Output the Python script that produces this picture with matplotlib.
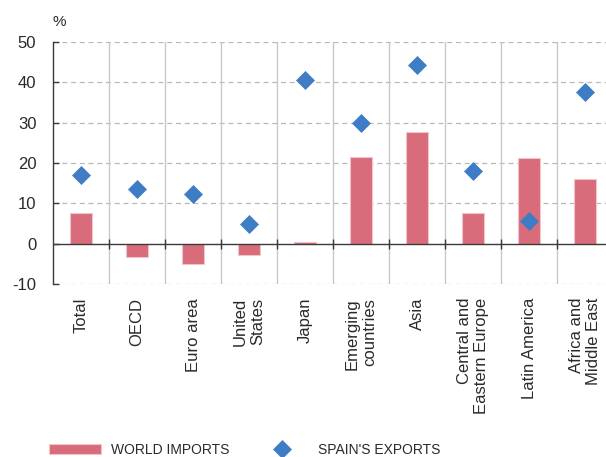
import numpy as np
import matplotlib.pyplot as plt

# values (%)
regions = ["Total", "OECD", "Euro area", "United\nStates", "Japan",
           "Emerging\ncountries", "Asia", "Central and\nEastern Europe",
           "Latin America", "Africa and\nMiddle East"]
world_imports = [7.5, -3.2, -5.0, -2.7, 0.4, 21.5, 27.6, 7.5, 21.3, 16.1]
spain_exports = [17.1, 13.5, 12.3, 4.8, 40.7, 29.8, 44.3, 17.9, 5.6, 37.6]
y_ticks = [-10, 0, 10, 20, 30, 40, 50]

bar_col = "#d86c7a"
dot_col = "#3e7dc6"
txt_col = "#2a2a2a"

plt.rcParams['font.family'] = ['Liberation Sans', 'DejaVu Sans']
plt.rcParams['axes.unicode_minus'] = False

fig = plt.figure(figsize=(6.06, 4.57), dpi=100)
ax = fig.add_axes([53 / 606, 1 - 284 / 457, 1 - 53 / 606, (284 - 42) / 457])

x = np.arange(len(regions))

for yv in y_ticks:
    if yv != 0:
        ax.axhline(yv, color="#b8b8b8", lw=0.9, ls=(0, (4, 3)), zorder=0)
for b in x[:-1] + 0.5:
    ax.axvline(b, color="#c8c8c8", lw=1.0, zorder=0)

bars = ax.bar(x, world_imports, width=0.41, color=bar_col, edgecolor="#f0c4ca",
              linewidth=0.8, zorder=2, label="WORLD IMPORTS")
pts, = ax.plot(x, spain_exports, ls="none", marker="D", ms=9, color=dot_col,
               mec=dot_col, mew=0.5, zorder=3, label="SPAIN'S EXPORTS")

# zero line with crossing ticks at the category boundaries
ax.axhline(0, color="#3a3a3a", lw=1.0, zorder=2.5)
ax.plot(x[:-1] + 0.5, np.zeros(len(x) - 1), ls="none", marker="|", ms=7,
        mew=1.0, color="#3a3a3a", zorder=2.5)

ax.set_ylim(-10, 50)
ax.set_xlim(-0.5, -0.5 + 553 / 56)
ax.set_yticks(y_ticks)
ax.set_xticks(x)
ax.set_xticklabels(regions, rotation=90, ha="center", va="top",
                   multialignment="right", fontsize=12, color=txt_col)
ax.tick_params(axis="x", length=0, pad=10)
ax.tick_params(axis="y", direction="in", length=4, width=1.0, color="#3a3a3a",
               pad=12, labelsize=12, labelcolor=txt_col)

for s in ["top", "right", "bottom"]:
    ax.spines[s].set_visible(False)
ax.spines["left"].set_color("#3a3a3a")
ax.spines["left"].set_linewidth(1.0)

fig.text(59 / 606, 1 - 22 / 457, "%", fontsize=11, color=txt_col,
         ha="center", va="center")

leg = fig.legend(handles=[bars, pts], loc="center left",
                 bbox_to_anchor=(36 / 606, 1 - 450 / 457), ncol=2,
                 frameon=False, handlelength=3.8, handleheight=0.8,
                 handletextpad=0.7, columnspacing=1.9,
                 prop={"size": 10})
for t in leg.get_texts():
    t.set_color(txt_col)

fig.savefig("out.png", dpi=100)
